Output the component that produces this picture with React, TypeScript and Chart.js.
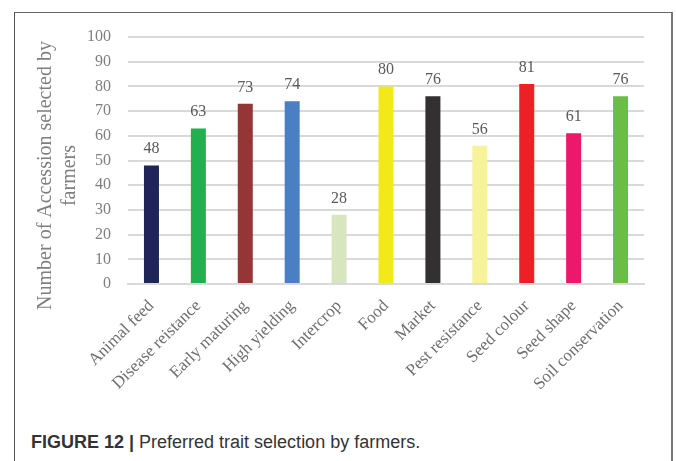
import React, { useEffect, useRef } from "react";
import { Chart, registerables } from "chart.js";

Chart.register(...registerables);

const categories = [
  "Animal feed",
  "Disease reistance",
  "Early maturing",
  "High yielding",
  "Intercrop",
  "Food",
  "Market",
  "Pest resistance",
  "Seed colour",
  "Seed shape",
  "Soil conservation",
];
const values = [48, 63, 73, 74, 28, 80, 76, 56, 81, 61, 76];
const barColors = [
  "#1f2559",
  "#22b04f",
  "#943536",
  "#4a80c1",
  "#d8e6bf",
  "#f2e91b",
  "#323031",
  "#f7f39b",
  "#ee1f25",
  "#ec186b",
  "#6cbd45",
];
const yTitleLines = ["Number of Accession selected by", "farmers"];

const SERIF = "'Liberation Serif', serif";

const valueLabelPlugin = {
  id: "valueLabels",
  afterDatasetsDraw(chart: any) {
    const ctx = chart.ctx;
    const meta = chart.getDatasetMeta(0);
    ctx.save();
    ctx.font = `16px ${SERIF}`;
    ctx.fillStyle = "#595959";
    ctx.textAlign = "center";
    ctx.textBaseline = "alphabetic";
    meta.data.forEach((bar: any, i: number) => {
      ctx.fillText(String(values[i]), bar.x, bar.y - 12);
    });
    ctx.restore();
  },
};

const yTitlePlugin = {
  id: "yTitle",
  afterDraw(chart: any) {
    const ctx = chart.ctx;
    const ys = chart.scales.y;
    const cy = ys.getPixelForValue(100) + (ys.getPixelForValue(0) - ys.getPixelForValue(100)) / 2 + 15;
    ctx.save();
    ctx.font = `20px ${SERIF}`;
    ctx.fillStyle = "#7f7f7f";
    ctx.textAlign = "center";
    ctx.textBaseline = "middle";
    yTitleLines.forEach((line, i) => {
      ctx.save();
      ctx.translate(46 + i * 24, cy);
      ctx.rotate(-Math.PI / 2);
      ctx.fillText(line, 0, 0);
      ctx.restore();
    });
    ctx.restore();
  },
};

export default function App() {
  const ref = useRef<HTMLCanvasElement>(null);
  useEffect(() => {
    if (!ref.current) return;
    const chart = new Chart(ref.current, {
      type: "bar",
      data: {
        labels: categories,
        datasets: [
          {
            data: values,
            backgroundColor: barColors,
            barPercentage: 0.32,
            categoryPercentage: 1,
          },
        ],
      },
      options: {
        animation: false,
        responsive: false,
        maintainAspectRatio: false,
        layout: { padding: { left: 30, top: 37, right: 32, bottom: 0 } },
        plugins: {
          legend: { display: false },
          tooltip: { enabled: false },
        },
        scales: {
          x: {
            grid: { display: false, drawTicks: false },
            border: { display: true, color: "#d9d9d9", width: 2 },
            ticks: {
              color: "#6f6f6f",
              font: { family: SERIF, size: 17 },
              maxRotation: 45,
              minRotation: 45,
              padding: 12,
              autoSkip: false,
            },
            afterFit: (s: any) => {
              s.height = 136;
            },
          },
          y: {
            min: 0,
            max: 100,
            grid: { color: "#d9d9d9", lineWidth: 2, drawTicks: false },
            border: { display: false },
            ticks: {
              stepSize: 10,
              color: "#7f7f7f",
              font: { family: SERIF, size: 16 },
              padding: 17,
            },
            afterFit: (s: any) => {
              s.width = 98;
            },
          },
        },
      },
      plugins: [valueLabelPlugin, yTitlePlugin],
    });
    return () => chart.destroy();
  }, []);

  return (
    <div style={{ position: "fixed", left: 0, top: 0, width: 676, height: 461, background: "#fff", overflow: "hidden" }}>
      <div
        style={{
          position: "absolute",
          left: 14,
          top: 12,
          width: 656,
          height: 470,
          borderLeft: "1px solid #555",
          borderTop: "1px solid #666",
          borderRight: "2px solid #777",
        }}
      />
      <canvas ref={ref} width={676} height={420} style={{ position: "absolute", left: 0, top: 0, width: 676, height: 420 }} />
      <div
        style={{
          position: "absolute",
          left: 31,
          top: 431,
          fontFamily: "'Liberation Sans', Arial, sans-serif",
          fontSize: 18,
          color: "#333",
          whiteSpace: "nowrap",
          lineHeight: "22px",
        }}
      >
        <b>FIGURE 12 |</b> Preferred trait selection by farmers.
      </div>
    </div>
  );
}
